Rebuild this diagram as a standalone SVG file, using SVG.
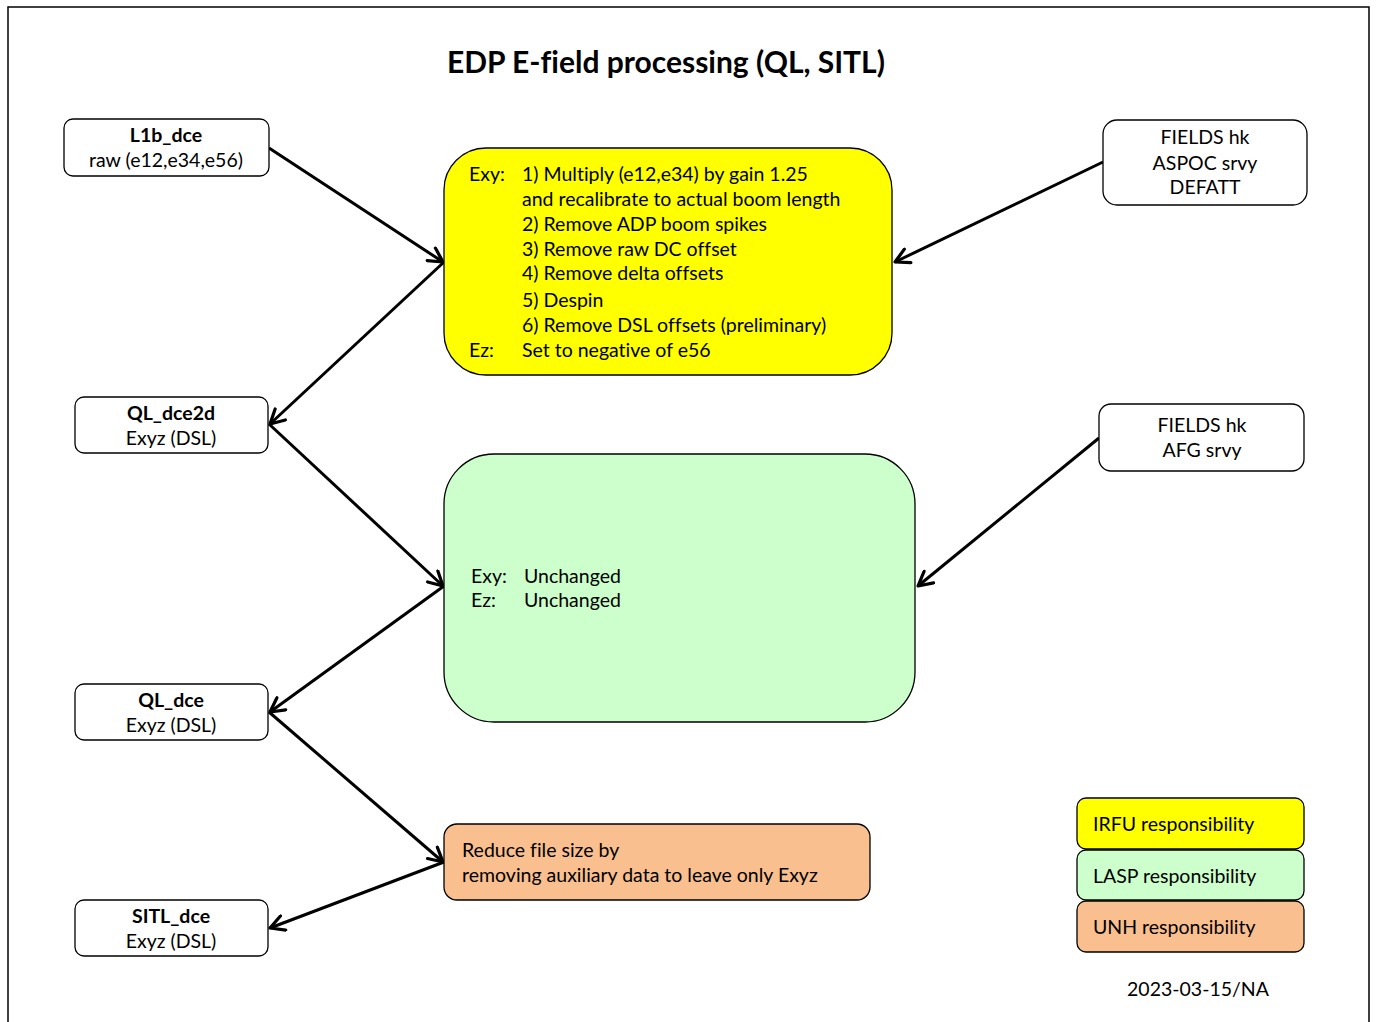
<svg xmlns="http://www.w3.org/2000/svg" width="1376" height="1022" viewBox="0 0 1376 1022">
<defs>
<style>
.t{font-family:Lato,"Open Sans","Liberation Sans",sans-serif;font-size:19.5px;fill:#000;font-variant-ligatures:none}
.b{font-weight:bold}
.box{stroke:#000;stroke-width:1.3}
.c{stroke:#000;stroke-width:3;fill:none;marker-end:url(#ah)}
</style>
<marker id="ah" viewBox="0 0 18 18" refX="16" refY="9" markerWidth="18" markerHeight="18" markerUnits="userSpaceOnUse" orient="auto">
<path d="M2,1.5 L16,9 L2,16.5" fill="none" stroke="#000" stroke-width="3.2" stroke-linecap="round" stroke-linejoin="round"/>
</marker>
</defs>
<rect x="0" y="0" width="1376" height="1022" fill="#fff"/>
<path d="M8,1022 V7 H1369 V1022" fill="none" stroke="#000" stroke-width="1.5"/>
<text class="t b" x="666" y="73" text-anchor="middle" style="font-size:30px">EDP E-field processing (QL, SITL)</text>

<g id="connectors">
<line class="c" x1="269" y1="148" x2="443" y2="262"/>
<line class="c" x1="444" y1="262" x2="270" y2="424"/>
<line class="c" x1="1103" y1="162" x2="895" y2="262"/>
<line class="c" x1="269" y1="424" x2="443" y2="586"/>
<line class="c" x1="444" y1="586" x2="270" y2="712"/>
<line class="c" x1="1099" y1="438" x2="918" y2="586"/>
<line class="c" x1="269" y1="712" x2="443" y2="862"/>
<line class="c" x1="444" y1="862" x2="270" y2="928"/>
</g>

<g id="n-l1b">
<rect class="box" x="64" y="119" width="205" height="57" rx="9" fill="#fff"/>
<text class="t b" x="166" y="142" text-anchor="middle">L1b_dce</text>
<text class="t" x="166" y="167" text-anchor="middle">raw (e12,e34,e56)</text>
</g>

<g id="n-irfu">
<rect class="box" x="444" y="148" width="448" height="227" rx="42" fill="#ffff00"/>
<text class="t" x="469" y="181">Exy:</text>
<text class="t" x="522" y="181">1) Multiply (e12,e34) by gain 1.25</text>
<text class="t" x="522" y="206">and recalibrate to actual boom length</text>
<text class="t" x="522" y="231">2) Remove ADP boom spikes</text>
<text class="t" x="522" y="256">3) Remove raw DC offset</text>
<text class="t" x="522" y="280">4) Remove delta offsets</text>
<text class="t" x="522" y="307">5) Despin</text>
<text class="t" x="522" y="332">6) Remove DSL offsets (preliminary)</text>
<text class="t" x="469" y="357">Ez:</text>
<text class="t" x="522" y="357">Set to negative of e56</text>
</g>

<g id="n-aspoc">
<rect class="box" x="1103" y="120" width="204" height="85" rx="14" fill="#fff"/>
<text class="t" x="1205" y="144" text-anchor="middle">FIELDS hk</text>
<text class="t" x="1205" y="170" text-anchor="middle">ASPOC srvy</text>
<text class="t" x="1205" y="194" text-anchor="middle">DEFATT</text>
</g>

<g id="n-ql2d">
<rect class="box" x="75" y="397" width="193" height="56" rx="9" fill="#fff"/>
<text class="t b" x="171" y="420" text-anchor="middle">QL_dce2d</text>
<text class="t" x="171" y="445" text-anchor="middle">Exyz (DSL)</text>
</g>

<g id="n-lasp">
<rect class="box" x="444" y="454" width="471" height="268" rx="50" fill="#ccffcc"/>
<text class="t" x="471" y="583">Exy:</text>
<text class="t" x="524" y="583">Unchanged</text>
<text class="t" x="471" y="607">Ez:</text>
<text class="t" x="524" y="607">Unchanged</text>
</g>

<g id="n-afg">
<rect class="box" x="1099" y="404" width="205" height="67" rx="12" fill="#fff"/>
<text class="t" x="1202" y="432" text-anchor="middle">FIELDS hk</text>
<text class="t" x="1202" y="457" text-anchor="middle">AFG srvy</text>
</g>

<g id="n-ql">
<rect class="box" x="75" y="684" width="193" height="56" rx="9" fill="#fff"/>
<text class="t b" x="171" y="707" text-anchor="middle">QL_dce</text>
<text class="t" x="171" y="732" text-anchor="middle">Exyz (DSL)</text>
</g>

<g id="n-unh">
<rect class="box" x="444" y="824" width="426" height="76" rx="13" fill="#f9bf8f"/>
<text class="t" x="462" y="857">Reduce file size by</text>
<text class="t" x="462" y="882">removing auxiliary data to leave only Exyz</text>
</g>

<g id="n-sitl">
<rect class="box" x="75" y="900" width="193" height="56" rx="9" fill="#fff"/>
<text class="t b" x="171" y="923" text-anchor="middle">SITL_dce</text>
<text class="t" x="171" y="948" text-anchor="middle">Exyz (DSL)</text>
</g>

<g id="legend">
<rect class="box" x="1077" y="798" width="227" height="51" rx="9" fill="#ffff00"/>
<text class="t" x="1093" y="831">IRFU responsibility</text>
<rect class="box" x="1077" y="850" width="227" height="50" rx="9" fill="#ccffcc"/>
<text class="t" x="1093" y="883">LASP responsibility</text>
<rect class="box" x="1077" y="901" width="227" height="51" rx="9" fill="#f9bf8f"/>
<text class="t" x="1093" y="934">UNH responsibility</text>
</g>

<text class="t" x="1198" y="996" text-anchor="middle">2023-03-15/NA</text>
</svg>
